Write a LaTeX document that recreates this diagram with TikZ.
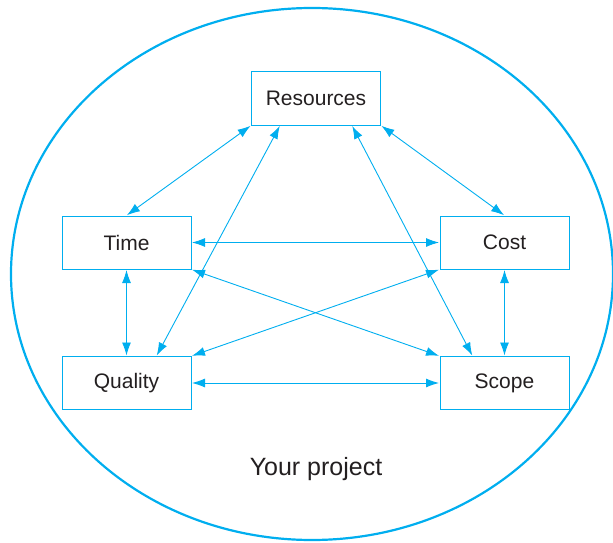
\documentclass[tikz,border=0pt]{standalone}
\usepackage{fontspec}
\setmainfont{Liberation Sans}
\usetikzlibrary{arrows.meta,calc}
\definecolor{cy}{HTML}{00AEEF}
\definecolor{txt}{HTML}{231F20}
\begin{document}
\begin{tikzpicture}[x=1pt,y=-1pt,
  boxnode/.style={draw=cy,line width=1pt,minimum width=129pt,minimum height=53pt,inner sep=0pt,text=txt,font=\fontsize{21}{24}\selectfont},
  conn/.style={draw=cy,line width=0.9pt,{Latex[length=13pt,width=9pt]}-{Latex[length=13pt,width=9pt]},shorten <=0.5pt,shorten >=0.5pt}]
\useasboundingbox (0,0) rectangle (613,543);
\clip (0,0) rectangle (613,543);
\draw[cy,line width=2.2pt] (312,274) ellipse [x radius=301,y radius=266];
\node[boxnode] (res) at (316,98.5) {Resources};
\node[boxnode] (time) at (126.5,242.5) {Time};
\node[boxnode] (cost) at (504.5,242.5) {Cost};
\node[boxnode] (qual) at (126.5,383) {Quality};
\node[boxnode] (scope) at (504.5,383) {Scope};
\node[text=txt,font=\fontsize{25}{28}\selectfont] (proj) at (316,469) {Your project};
\draw[conn] (res.south west) -- (time.north);
\draw[conn] ([xshift=29pt]res.south west) -- ([xshift=30pt]qual.north);
\draw[conn] ([xshift=101pt]res.south west) -- ([xshift=33pt]scope.north west);
\draw[conn] (res.south east) -- (cost.north);
\draw[conn] (time.east) -- (cost.west);
\draw[conn] (time.south east) -- (scope.north west);
\draw[conn] (cost.south west) -- (qual.north east);
\draw[conn] (time.south) -- (qual.north);
\draw[conn] (cost.south) -- (scope.north);
\draw[conn] (qual.east) -- (scope.west);
\end{tikzpicture}
\end{document}
